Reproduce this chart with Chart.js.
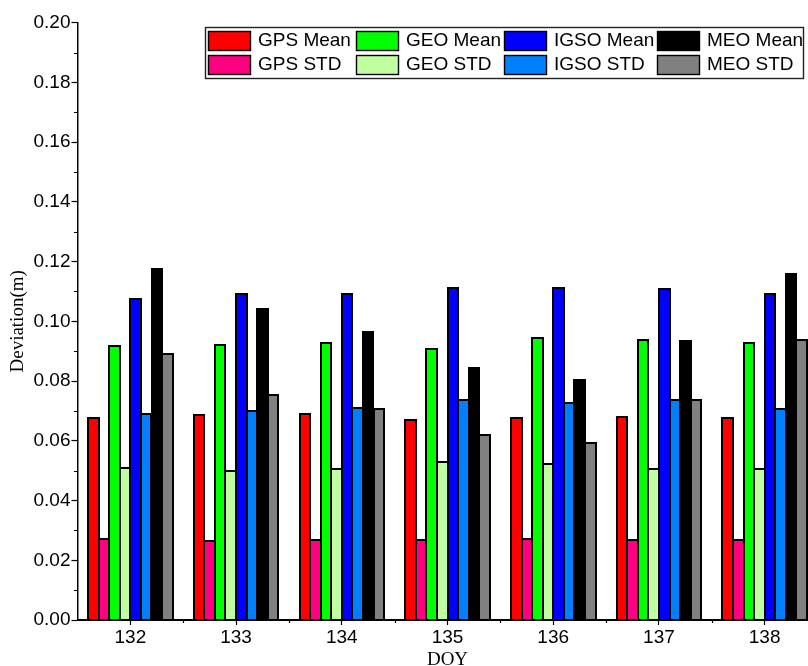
<!DOCTYPE html>
<html>
<head>
<meta charset="utf-8">
<title>DOY deviation</title>
<script src="https://cdn.jsdelivr.net/npm/chart.js@4.4.1/dist/chart.umd.min.js"></script>
<style>
    html, body { margin: 0; padding: 0; background: #fff; overflow: hidden; }
    #wrap { width: 808px; height: 666px; overflow: hidden; position: relative; }
    #chart { display: block; }
</style>
</head>
<body>
<div id="wrap"><canvas id="chart" width="820" height="672"></canvas></div>
<script>
// Day of year on the x axis
const days = ['132', '133', '134', '135', '136', '137', '138'];

// Mean and STD of the deviation (m) per constellation
const gpsMean  = [0.0678, 0.0688, 0.0691, 0.0669, 0.0677, 0.0680, 0.0678];
const gpsStd   = [0.0270, 0.0265, 0.0269, 0.0267, 0.0272, 0.0269, 0.0269];
const geoMean  = [0.0919, 0.0922, 0.0928, 0.0908, 0.0945, 0.0937, 0.0927];
const geoStd   = [0.0508, 0.0500, 0.0506, 0.0528, 0.0524, 0.0507, 0.0506];
const igsoMean = [0.1075, 0.1091, 0.1090, 0.1112, 0.1112, 0.1109, 0.1090];
const igsoStd  = [0.0689, 0.0701, 0.0711, 0.0738, 0.0725, 0.0735, 0.0707];
const meoMean  = [0.1175, 0.1040, 0.0965, 0.0845, 0.0804, 0.0935, 0.1160];
const meoStd   = [0.0892, 0.0754, 0.0707, 0.0619, 0.0591, 0.0735, 0.0939];

const yTicks = [0.00, 0.02, 0.04, 0.06, 0.08, 0.10, 0.12, 0.14, 0.16, 0.18, 0.20];

const SANS = '"Liberation Sans", Arial, sans-serif';
const SERIF = '"Liberation Serif", "Times New Roman", serif';

function bar(label, data, color) {
    return {
        label: label,
        data: data,
        backgroundColor: color,
        borderWidth: 0,
        inflateAmount: 0.5,
        categoryPercentage: 0.8,
        barPercentage: 1.0
    };
}

// Crisp black outlines on the bars, snapped to whole pixels so that
// neighbouring bars share one dark edge
const barOutline = {
    id: 'barOutline',
    afterDatasetsDraw(chart) {
        const ctx = chart.ctx;
        ctx.save();
        ctx.strokeStyle = '#000';
        ctx.lineWidth = 2;
        chart.data.datasets.forEach((ds, i) => {
            chart.getDatasetMeta(i).data.forEach(el => {
                const l = Math.round(el.x - el.width / 2);
                const r = Math.round(el.x + el.width / 2);
                const t = Math.round(el.y);
                const b = Math.round(el.base);
                ctx.fillStyle = ds.backgroundColor;
                ctx.fillRect(l, t, r - l, b - t);
                ctx.strokeRect(l, t, r - l, b - t);
            });
        });
        ctx.restore();
    }
};

// Legend is a 4x2 grid inside a framed box, means on top, STDs below
const legendBox = {
    id: 'legendBox',
    afterDraw(chart) {
        const ctx = chart.ctx;
        const ds = chart.data.datasets;
        const cols = [208, 356, 504, 657];
        const rows = [31, 55];
        ctx.save();
        ctx.fillStyle = '#fff';
        ctx.fillRect(205, 27, 599, 52);
        ctx.strokeStyle = '#222';
        ctx.lineWidth = 1.4;
        ctx.strokeRect(205.5, 27.5, 598, 51);
        ctx.font = '19px ' + SANS;
        ctx.textBaseline = 'alphabetic';
        for (let i = 0; i < ds.length; i++) {
            const c = Math.floor(i / 2);
            const r = i % 2;
            const x = cols[c], y = rows[r];
            ctx.fillStyle = ds[i].backgroundColor;
            ctx.fillRect(x, y, 43, 20);
            ctx.strokeStyle = '#000';
            ctx.lineWidth = 1.4;
            ctx.strokeRect(x + 0.5, y + 0.5, 42, 19);
            ctx.fillStyle = '#000';
            ctx.fillText(ds[i].label, x + 50, y + 15);
        }
        ctx.restore();
    }
};

// Short minor ticks between the labelled ones
const minorTicks = {
    id: 'minorTicks',
    afterDraw(chart) {
        const ctx = chart.ctx;
        const xs = chart.scales.x, ys = chart.scales.y;
        const area = chart.chartArea;
        ctx.save();
        ctx.strokeStyle = '#000';
        ctx.lineWidth = 1.2;
        ctx.beginPath();
        for (let i = 0; i < yTicks.length - 1; i++) {
            const y = Math.round(ys.getPixelForValue((yTicks[i] + yTicks[i + 1]) / 2)) + 0.5;
            ctx.moveTo(area.left - 3.5, y);
            ctx.lineTo(area.left, y);
        }
        for (let i = 0; i < days.length; i++) {
            const x = Math.round(xs.getPixelForValue(i) + xs.width / days.length / 2) + 0.5;
            ctx.moveTo(x, area.bottom);
            ctx.lineTo(x, area.bottom + 3);
        }
        ctx.stroke();
        ctx.restore();
    }
};

new Chart(document.getElementById('chart'), {
    type: 'bar',
    data: {
        labels: days,
        datasets: [
            bar('GPS Mean', gpsMean, '#FF0000'),
            bar('GPS STD', gpsStd, '#FF0080'),
            bar('GEO Mean', geoMean, '#00FF00'),
            bar('GEO STD', geoStd, '#C0FFA0'),
            bar('IGSO Mean', igsoMean, '#0000FF'),
            bar('IGSO STD', igsoStd, '#0080FF'),
            bar('MEO Mean', meoMean, '#000000'),
            bar('MEO STD', meoStd, '#808080')
        ]
    },
    options: {
        responsive: false,
        animation: false,
        devicePixelRatio: 1,
        layout: { padding: { top: 22.7, right: 2.5, left: 0, bottom: 0 } },
        scales: {
            x: {
                offset: true,
                afterFit: (scale) => { scale.height = 52; },
                grid: {
                    offset: false,
                    drawOnChartArea: false,
                    drawTicks: true,
                    tickLength: 5,
                    tickColor: '#000',
                    tickWidth: 1.2
                },
                border: { display: true, color: '#000', width: 2 },
                ticks: {
                    color: '#000',
                    padding: 1,
                    font: { family: SANS, size: 19 },
                    maxRotation: 0
                },
                title: {
                    display: true,
                    text: 'DOY',
                    color: '#000',
                    font: { family: SERIF, size: 19 },
                    padding: { top: 0, bottom: 1 }
                }
            },
            y: {
                min: 0,
                max: 0.2,
                afterFit: (scale) => { scale.width = 77.5; },
                afterBuildTicks: (scale) => { scale.ticks = yTicks.map(v => ({ value: v })); },
                grid: {
                    drawOnChartArea: false,
                    drawTicks: true,
                    tickLength: 6,
                    tickColor: '#000',
                    tickWidth: 1.2
                },
                border: { display: true, color: '#000', width: 1.5 },
                ticks: {
                    color: '#000',
                    padding: 1,
                    font: { family: SANS, size: 19 },
                    callback: (v) => Number(v).toFixed(2)
                },
                title: {
                    display: true,
                    text: 'Deviation(m)',
                    color: '#000',
                    font: { family: SERIF, size: 19 },
                    padding: { top: 6.6, bottom: 0 }
                }
            }
        },
        plugins: {
            legend: { display: false },
            tooltip: { enabled: false }
        }
    },
    plugins: [barOutline, legendBox, minorTicks]
});
</script>
</body>
</html>
